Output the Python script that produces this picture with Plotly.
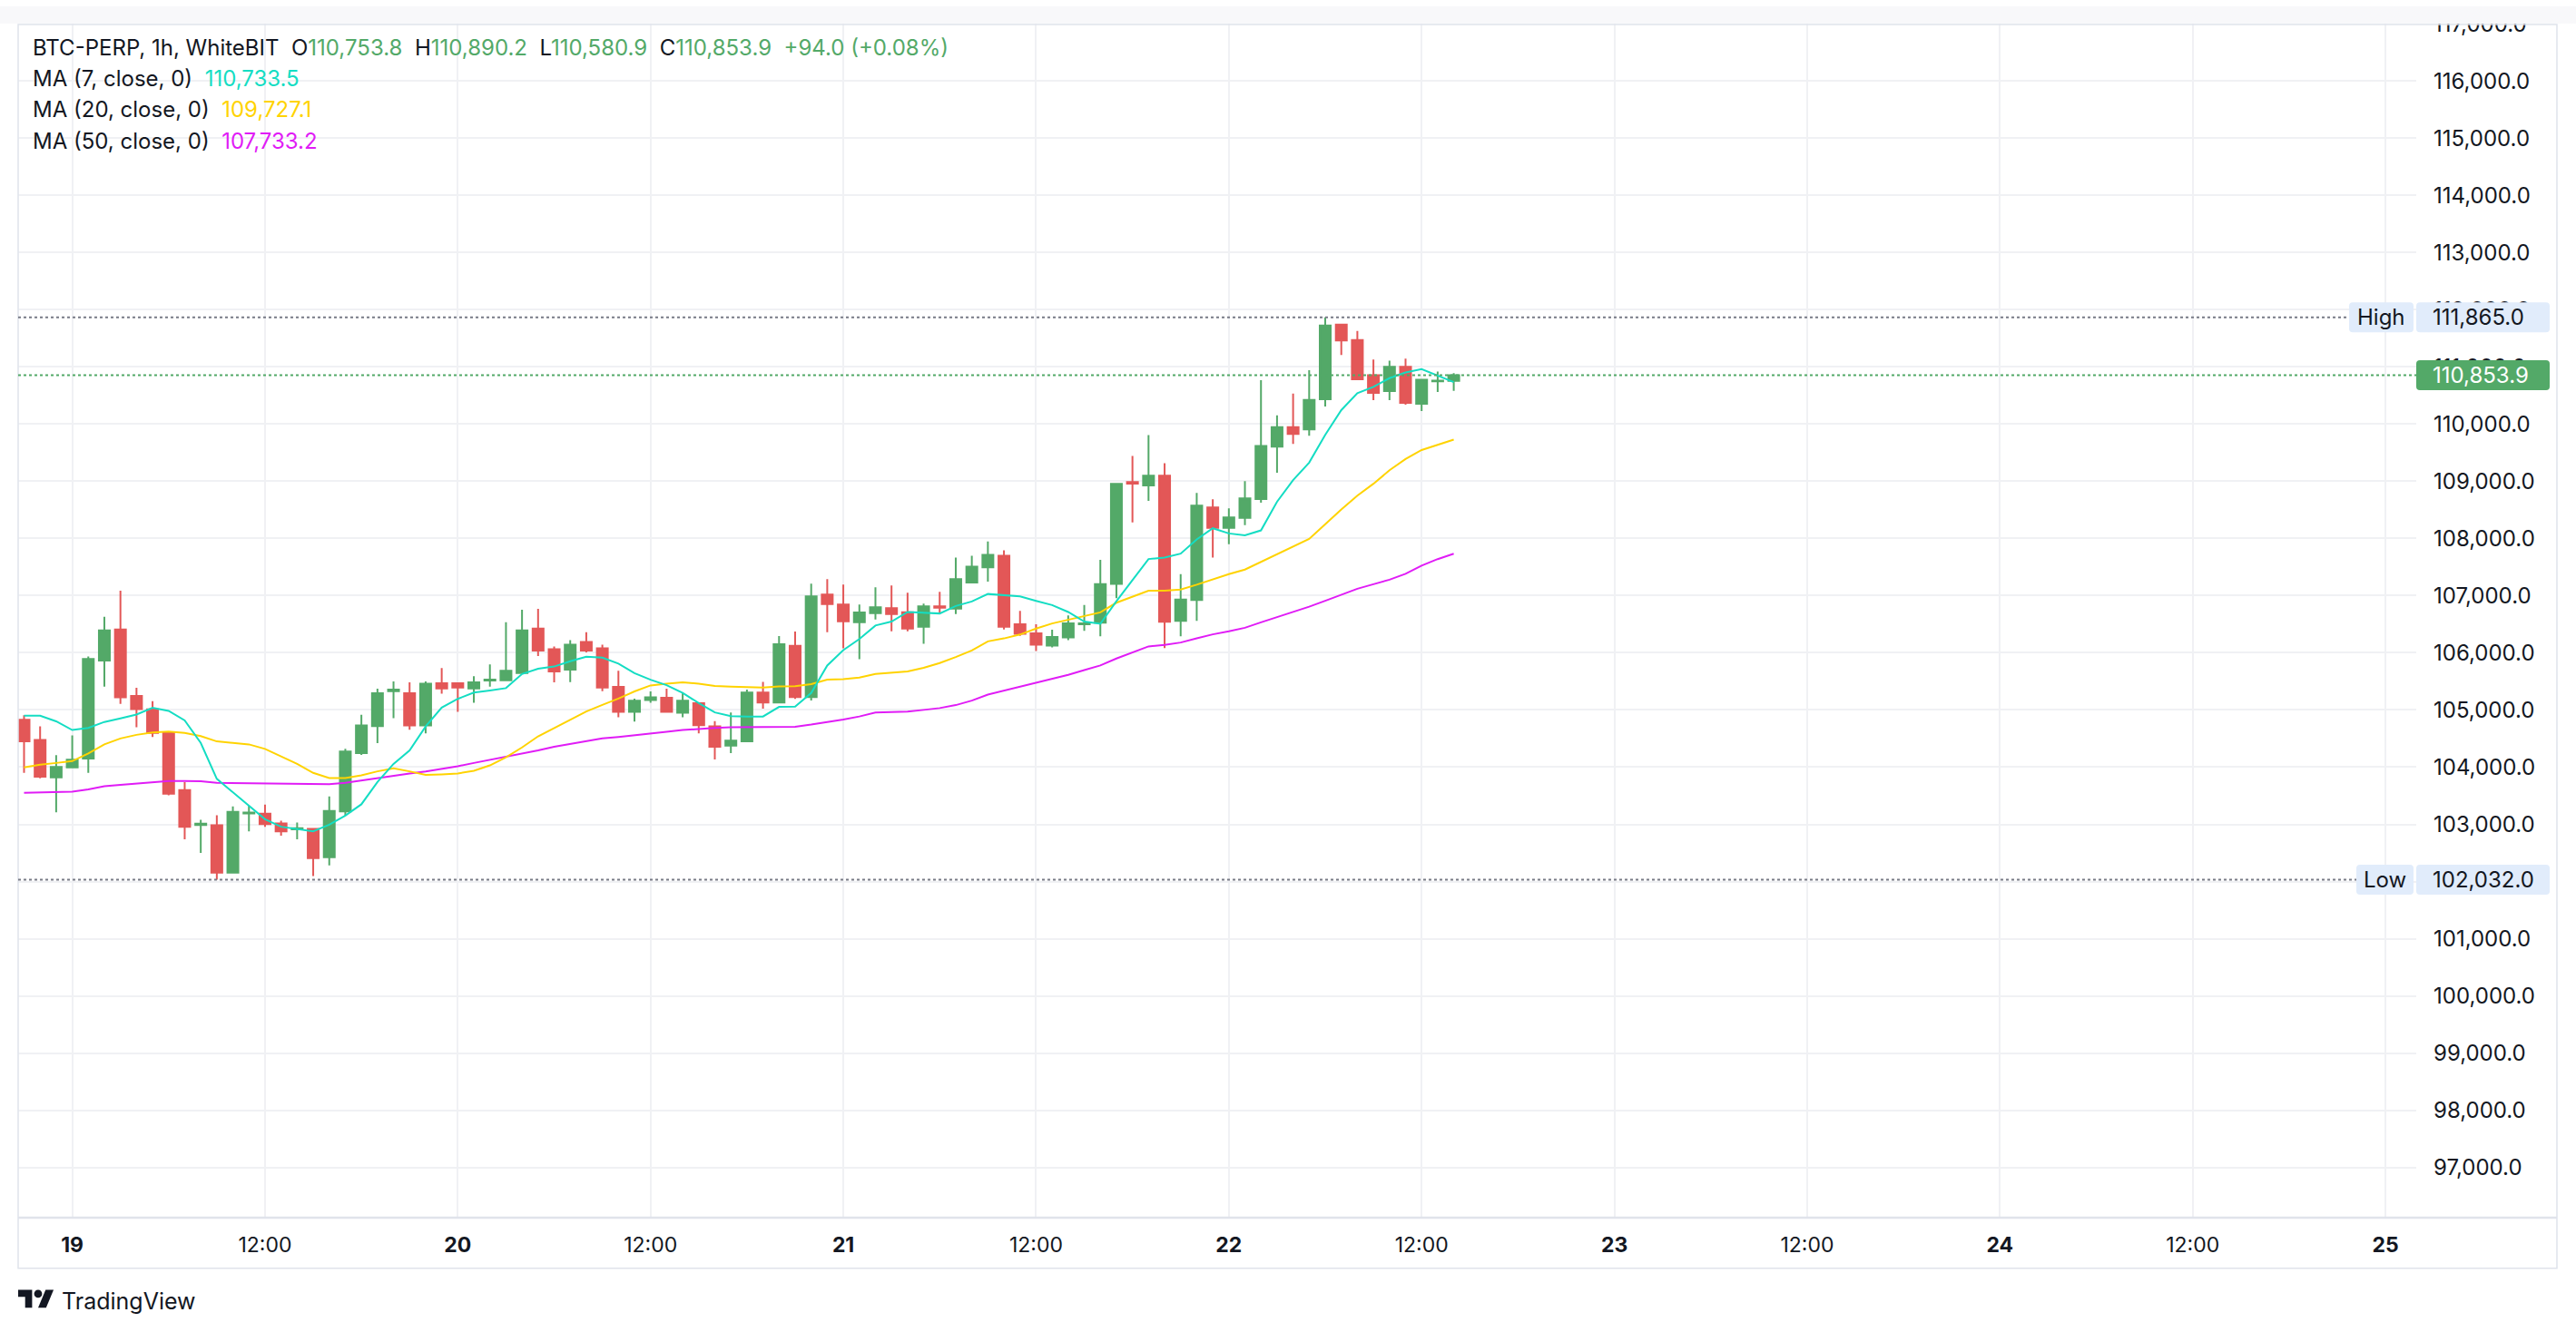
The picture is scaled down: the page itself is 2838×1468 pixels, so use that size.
import plotly.graph_objects as go
import pandas as pd

# ---------------- data ----------------
symbol_title = "BTC-PERP, 1h, WhiteBIT"
first_candle_time = "2025-05-18 21:00"

opens = [
    104827, 104476, 103822, 103995, 104152, 105864, 106408, 105246, 105010, 104607,
    103597, 102990, 102984, 102157, 103190, 103188, 103016, 102911, 102921, 102424,
    103225, 104246, 104717, 105330, 105293, 104728, 105466, 105466, 105377, 105513,
    105518, 105644, 106424, 106063, 105707, 106188, 106079, 105403, 104968, 105173,
    105215, 104953, 105120, 104712, 104376, 104450, 105306, 105132, 106120, 105227,
    107018, 106845, 106535, 106692, 106782, 106708, 106456, 106813, 106771, 107228,
    107496, 107695, 106498, 106340, 106125, 106267, 106500, 106526, 107205, 108984,
    108926, 109095, 106558, 106921, 108542, 108184, 108358, 108690, 109605, 109947,
    109905, 110434, 111737, 111469, 110854, 110576, 111001, 110355, 110745, 110753.8,
]
highs = [
    104906, 104712, 104209, 104555, 105937, 106628, 107084, 105387, 105152, 104615,
    103738, 103078, 103157, 103314, 103330, 103345, 103063, 103031, 102925, 103487,
    104319, 104916, 105372, 105497, 105482, 105497, 105733, 105470, 105592, 105796,
    106534, 106754, 106770, 106110, 106220, 106361, 106141, 105686, 105199, 105325,
    105372, 105293, 105125, 104806, 104954, 105358, 105490, 106293, 106372, 107207,
    107286, 107191, 106845, 107144, 107175, 107049, 106860, 107065, 107664, 107695,
    107947, 107790, 106734, 106498, 106403, 106655, 106837, 107626, 108955, 109442,
    109805, 109316, 107374, 108795, 108684, 108526, 109000, 110768, 110153, 110532,
    110942, 111865, 111753, 111627, 111127, 111106, 111143, 110791, 110917, 110890.2,
]
lows = [
    103900, 103806, 103209, 103990, 103900, 105408, 105105, 104696, 104529, 103508,
    102738, 102502, 102032, 102146, 102879, 102958, 102801, 102738, 102094, 102282,
    103152, 104214, 104419, 104858, 104654, 104591, 105283, 104968, 105126, 105408,
    105515, 105640, 105942, 105482, 105487, 106005, 105330, 104874, 104796, 105126,
    104953, 104874, 104591, 104136, 104245, 104434, 105022, 105128, 105195, 105164,
    106361, 106078, 105889, 106582, 106377, 106377, 106157, 106692, 106677, 107225,
    107244, 106409, 106298, 106031, 106094, 106220, 106384, 106290, 106953, 108279,
    108658, 106084, 106290, 106558, 107663, 107900, 108232, 108626, 109147, 109653,
    109795, 110308, 111206, 110765, 110418, 110418, 110339, 110229, 110560, 110580.9,
]
closes = [
    104450, 103832, 104005, 104131, 105890, 106393, 105220, 105016, 104597, 103534,
    102958, 103010, 102157, 103220, 103205, 103005, 102879, 102932, 102408, 103235,
    104272, 104728, 105293, 105356, 104728, 105461, 105377, 105393, 105482, 105529,
    105686, 106393, 106037, 105675, 106141, 106037, 105393, 104968, 105162, 105220,
    104968, 105162, 104733, 104356, 104465, 105306, 105132, 106151, 105227, 106986,
    106850, 106550, 106703, 106797, 106677, 106424, 106813, 106787, 107286, 107506,
    107711, 106456, 106330, 106141, 106277, 106514, 106514, 107200, 108953, 108958,
    109095, 106542, 106932, 108574, 108184, 108368, 108700, 109616, 109947, 109826,
    110421, 111721, 111459, 110781, 110544, 111001, 110371, 110775, 110759.9, 110853.9,
]
ma7 = [
    104900, 104900, 104801, 104649, 104686, 104790, 104853, 104921, 105037, 104984,
    104817, 104424, 103796, 103560, 103319, 103089, 102958, 102916, 102879, 102994,
    103152, 103350, 103740, 104057, 104293, 104712, 105042, 105194, 105304, 105340,
    105382, 105628, 105722, 105759, 105853, 105932, 105916, 105811, 105644, 105529,
    105434, 105298, 105120, 104958, 104891, 104886, 104886, 105054, 105059, 105295,
    105778, 106046, 106241, 106477, 106545, 106713, 106703, 106687, 106818, 106897,
    107028, 107002, 106986, 106908, 106834, 106713, 106545, 106506, 106901, 107270,
    107639, 107665, 107734, 107982, 108177, 108087, 108055, 108140, 108640, 109020,
    109325, 109810, 110244, 110538, 110650, 110802, 110900, 110959, 110844, 110733.5,
]
ma20 = [
    103995, 104042, 104073, 104105, 104241, 104398, 104502, 104565, 104607, 104623,
    104597, 104544, 104450, 104424, 104398, 104319, 104188, 104058, 103900, 103811,
    103811, 103856, 103926, 103979, 103926, 103864, 103874, 103890, 103937, 104031,
    104173, 104345, 104539, 104686, 104827, 104974, 105089, 105199, 105324, 105429,
    105461, 105482, 105461, 105419, 105406, 105400, 105390, 105411, 105416, 105453,
    105532, 105537, 105568, 105631, 105652, 105673, 105736, 105820, 105925, 106041,
    106199, 106251, 106319, 106424, 106512, 106578, 106641, 106706, 106875, 106980,
    107086, 107086, 107107, 107191, 107286, 107376, 107455, 107586, 107729, 107850,
    107992, 108246, 108506, 108748, 108955, 109191, 109388, 109546, 109635, 109727.1,
]
ma50 = [
    103550, 103555, 103561, 103571, 103612, 103665, 103691, 103717, 103738, 103759,
    103759, 103754, 103727, 103722, 103717, 103712, 103707, 103701, 103696, 103701,
    103727, 103769, 103815, 103848, 103890, 103926, 103968, 104016, 104073, 104126,
    104178, 104241, 104293, 104356, 104408, 104461, 104502, 104529, 104555, 104591,
    104618, 104649, 104670, 104684, 104697, 104702, 104707, 104712, 104707, 104744,
    104786, 104833, 104886, 104954, 104964, 104970, 105001, 105033, 105085, 105164,
    105269, 105337, 105416, 105479, 105545, 105615, 105697, 105779, 105900, 106006,
    106111, 106137, 106179, 106253, 106322, 106374, 106437, 106532, 106622, 106706,
    106806, 106910, 107020, 107120, 107199, 107278, 107380, 107525, 107638, 107733.2,
]
ma_names = ["MA (7, close, 0)", "MA (20, close, 0)", "MA (50, close, 0)"]

x_tick_times = ["2025-05-19 00:00", "2025-05-19 12:00", "2025-05-20 00:00", "2025-05-20 12:00",
                "2025-05-21 00:00", "2025-05-21 12:00", "2025-05-22 00:00", "2025-05-22 12:00",
                "2025-05-23 00:00", "2025-05-23 12:00", "2025-05-24 00:00", "2025-05-24 12:00",
                "2025-05-25 00:00"]
x_tick_labels = ["<b>19</b>", "12:00", "<b>20</b>", "12:00", "<b>21</b>", "12:00", "<b>22</b>",
                 "12:00", "<b>23</b>", "12:00", "<b>24</b>", "12:00", "<b>25</b>"]

times = pd.date_range(first_candle_time, periods=len(opens), freq="h")

# ---------------- styling ----------------
GREEN = "#53A968"
RED = "#E35757"
C_MA = ["#14DDC3", "#FFD300", "#E01CF6"]
TXT = "#131722"
GRID = "#F0F1F4"
BORDER = "#E0E3EB"
FONT = "Inter, Roboto, sans-serif"

W_PAGE, H_PAGE = 2838, 1468
L, R, T, B = 20, 2662, 19, 1342
PX_PER_1000 = 63.36


def px(x):
    return (x - L) / (R - L)


def py(y):
    return (B - y) / (B - T)


fig = go.Figure()
fig.add_trace(go.Candlestick(
    x=times, open=opens, high=highs, low=lows, close=closes,
    increasing=dict(line=dict(color=GREEN, width=2), fillcolor=GREEN),
    decreasing=dict(line=dict(color=RED, width=2), fillcolor=RED),
    hoverinfo="skip", showlegend=False,
))
for vals, col in zip([ma50, ma20, ma7], [C_MA[2], C_MA[1], C_MA[0]]):
    fig.add_trace(go.Scatter(x=times, y=vals, mode="lines",
                             line=dict(color=col, width=2),
                             hoverinfo="skip", showlegend=False))

shapes = []
annotations = []

# top light strip and outer border
shapes.append(dict(type="rect", xref="paper", yref="paper", x0=px(0), x1=px(W_PAGE),
                   y0=py(T), y1=py(0), fillcolor="#F8F8FA", line=dict(width=0), layer="above"))
shapes.append(dict(type="rect", xref="paper", yref="paper", x0=px(20), x1=px(2817),
                   y0=py(1398), y1=py(20), fillcolor="rgba(0,0,0,0)",
                   line=dict(color=BORDER, width=1.5), layer="above"))
# x axis line extended under price scale
shapes.append(dict(type="line", xref="paper", yref="paper", x0=px(20), x1=px(2817),
                   y0=py(B), y1=py(B), line=dict(color=BORDER, width=2.5), layer="above"))

hi_val = max(highs)
lo_val = min(lows)
last_close = closes[-1]

# dotted level lines
shapes.append(dict(type="line", xref="paper", yref="y", x0=0, x1=px(2588), y0=hi_val, y1=hi_val,
                   line=dict(color="#787B86", width=2, dash="dot"), layer="above"))
shapes.append(dict(type="line", xref="paper", yref="y", x0=0, x1=px(2596), y0=lo_val, y1=lo_val,
                   line=dict(color="#787B86", width=2, dash="dot"), layer="above"))
shapes.append(dict(type="line", xref="paper", yref="y", x0=0, x1=1, y0=last_close, y1=last_close,
                   line=dict(color=GREEN, width=2, dash="dot"), layer="above"))

dv = 1000.0 / PX_PER_1000


def rrect(x0p, x1p, yc, color, r=4, half_h=16.5, dy=0.0):
    """rounded rect: x in pixels, y centred on a data value"""
    yb = yc - (half_h + dy) * dv
    yt = yc + (half_h - dy) * dv
    rx = r / (R - L)
    ry = r * dv
    a, b = px(x0p), px(x1p)
    path = (f"M{a + rx},{yb} L{b - rx},{yb} Q{b},{yb} {b},{yb + ry} "
            f"L{b},{yt - ry} Q{b},{yt} {b - rx},{yt} L{a + rx},{yt} "
            f"Q{a},{yt} {a},{yt - ry} L{a},{yb + ry} Q{a},{yb} {a + rx},{yb} Z")
    return dict(type="path", xref="paper", yref="y", path=path, fillcolor=color,
                line=dict(width=0), layer="above")


LABEL_BLUE = "#E1ECFB"
shapes.append(rrect(2588, 2659, hi_val, LABEL_BLUE))
shapes.append(rrect(2662, 2809, hi_val, LABEL_BLUE))
shapes.append(rrect(2596, 2659, lo_val, LABEL_BLUE))
shapes.append(rrect(2662, 2809, lo_val, LABEL_BLUE))
shapes.append(rrect(2662, 2809, last_close, GREEN))


def price_text(v, color):
    annotations.append(dict(xref="paper", yref="y", x=px(2679), y=v, text=f"{v:,.1f}",
                            xanchor="left", yanchor="middle", showarrow=False, borderpad=0,
                            font=dict(family=FONT, size=24, color=color)))


price_text(hi_val, TXT)
price_text(lo_val, TXT)
price_text(last_close, "white")
annotations.append(dict(xref="paper", yref="y", x=px(2623.5), y=hi_val, text="High",
                        xanchor="center", yanchor="middle", showarrow=False, borderpad=0,
                        font=dict(family=FONT, size=24, color=TXT)))
annotations.append(dict(xref="paper", yref="y", x=px(2627.5), y=lo_val, text="Low",
                        xanchor="center", yanchor="middle", showarrow=False, borderpad=0,
                        font=dict(family=FONT, size=24, color=TXT)))

# legend / header
prev_close = closes[-2]
chg = last_close - prev_close
pct = chg / prev_close * 100
NB = "\u00a0"


def g(s, c=GREEN):
    return f'<span style="color:{c}">{s}</span>'


row1 = (f"{symbol_title}{NB}{NB}O{g(f'{opens[-1]:,.1f}')}{NB}{NB}H{g(f'{highs[-1]:,.1f}')}"
        f"{NB}{NB}L{g(f'{lows[-1]:,.1f}')}{NB}{NB}C{g(f'{last_close:,.1f}')}"
        f"{NB}{NB}{g(f'{chg:+,.1f} ({pct:+.2f}%)')}")
rows = [row1]
for name, vals, col in zip(ma_names, [ma7, ma20, ma50], C_MA):
    rows.append(f"{name}{NB}{NB}{g(f'{vals[-1]:,.1f}', col)}")
row_y = [45.5, 80.0, 114.5, 149.0]
for txt, yy in zip(rows, row_y):
    annotations.append(dict(xref="paper", yref="paper", x=px(35), y=py(yy), text=txt,
                            xanchor="left", yanchor="middle", showarrow=False, borderpad=0,
                            font=dict(family=FONT, size=24, color=TXT)))

# TradingView logo
def lx(u):
    return px(20 + u * 1.1)


def ly(u):
    return py(1422 + (u - 4) * 1.1)


tpath = f"M{lx(0)},{ly(4)} L{lx(14)},{ly(4)} L{lx(14)},{ly(22)} L{lx(7)},{ly(22)} L{lx(7)},{ly(11)} L{lx(0)},{ly(11)} Z"
spath = f"M{lx(28)},{ly(22)} L{lx(20)},{ly(22)} L{lx(27.5)},{ly(4)} L{lx(35.5)},{ly(4)} Z"
shapes.append(dict(type="path", xref="paper", yref="paper", path=tpath, fillcolor=TXT,
                   line=dict(width=0), layer="above"))
shapes.append(dict(type="path", xref="paper", yref="paper", path=spath, fillcolor=TXT,
                   line=dict(width=0), layer="above"))
shapes.append(dict(type="circle", xref="paper", yref="paper", x0=lx(16), x1=lx(24), y0=ly(12), y1=ly(4),
                   fillcolor=TXT, line=dict(width=0), layer="above"))
annotations.append(dict(xref="paper", yref="paper", x=px(67), y=py(1434), text="TradingView",
                        xanchor="left", yanchor="middle", showarrow=False, borderpad=0,
                        font=dict(family=FONT, size=25, color=TXT)))

fig.update_layout(
    width=W_PAGE, height=H_PAGE, autosize=False,
    margin=dict(l=L, r=W_PAGE - R, t=T, b=H_PAGE - B, pad=0),
    paper_bgcolor="white", plot_bgcolor="white",
    font=dict(family=FONT, size=24, color=TXT),
    showlegend=False,
    boxgap=0.22, boxgroupgap=0.13,
    shapes=shapes, annotations=annotations,
    xaxis=dict(type="date", range=["2025-05-18 20:38", "2025-05-25 01:55"],
               tickmode="array", tickvals=x_tick_times, ticktext=x_tick_labels,
               showgrid=True, gridcolor=GRID, gridwidth=1.5, showline=False,
               ticks="", tickfont=dict(family=FONT, size=23, color=TXT),
               rangeslider=dict(visible=False), zeroline=False, ticklabelstandoff=14),
    yaxis=dict(side="right", range=[96122, 117002], dtick=1000, tick0=0, tickformat=",.1f",
               showgrid=True, gridcolor=GRID, gridwidth=1.5, showline=False, ticks="",
               ticklabelstandoff=18, tickfont=dict(family=FONT, size=24, color=TXT),
               zeroline=False),
)

fig.write_html("out.html")
